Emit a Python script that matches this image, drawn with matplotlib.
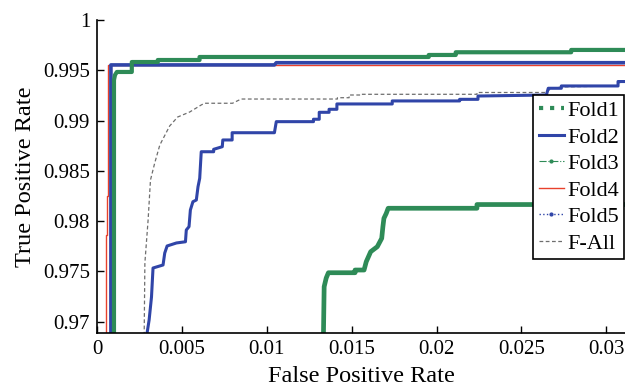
import matplotlib
matplotlib.use("Agg")
import matplotlib.pyplot as plt
from matplotlib.lines import Line2D

plt.rcParams['font.family'] = 'serif'
plt.rcParams['font.serif'] = ['Liberation Serif', 'DejaVu Serif']

# ----- data (FPR, TPR) -----
fold1_fpr = [0.01334, 0.01334, 0.01338, 0.01350, 0.01363, 0.01520, 0.01520, 0.01573,
             0.01586, 0.01612, 0.01651, 0.01677, 0.01684, 0.01690, 0.01704, 0.01715,
             0.02238, 0.02238, 0.0320]
fold1_tpr = [0.9680, 0.96888, 0.97348, 0.97434, 0.97487, 0.97487, 0.97514, 0.97514,
             0.97597, 0.97696, 0.97746, 0.97829, 0.97945, 0.98028, 0.98078, 0.98128,
             0.98128, 0.98165, 0.98165]

fold2_fpr = [0.00295, 0.00295, 0.00307, 0.00321, 0.00330, 0.00389, 0.00399, 0.00413,
             0.00468, 0.00521, 0.00526, 0.00542, 0.00550, 0.00565, 0.00585, 0.00595,
             0.00605, 0.00614, 0.00687, 0.00687, 0.00738, 0.00741, 0.00796, 0.00796,
             0.01045, 0.01056, 0.01275, 0.01275, 0.01309, 0.01309, 0.01367, 0.01367,
             0.01413, 0.01413, 0.01739, 0.01739, 0.02136, 0.02136, 0.02244, 0.02244,
             0.02647, 0.02658, 0.02735, 0.02735, 0.03069, 0.03069, 0.0320]
fold2_tpr = [0.9680, 0.96888, 0.97017, 0.97246, 0.97534, 0.97564, 0.97683, 0.97753,
             0.97783, 0.97795, 0.97912, 0.97945, 0.98111, 0.98193, 0.98210, 0.98342,
             0.98426, 0.98690, 0.98690, 0.98714, 0.98740, 0.98807, 0.98807, 0.98879,
             0.98879, 0.98989, 0.98989, 0.99013, 0.99013, 0.99082, 0.99082, 0.99112,
             0.99112, 0.99165, 0.99165, 0.99195, 0.99195, 0.99211, 0.99211, 0.99244,
             0.99254, 0.99321, 0.99321, 0.99344, 0.99344, 0.99388, 0.99388]

fold3_fpr = [0.00100, 0.00100, 0.00106, 0.00117, 0.00205, 0.00205, 0.00358, 0.00358,
             0.00604, 0.00604, 0.01954, 0.01954, 0.02113, 0.02113, 0.02793, 0.02793, 0.0320]
fold3_tpr = [0.9680, 0.99403, 0.99453, 0.99483, 0.99483, 0.99582, 0.99582, 0.99602,
             0.99602, 0.99632, 0.99632, 0.99652, 0.99652, 0.99679, 0.99679, 0.99702, 0.99702]

fold4_fpr = [0.00053, 0.00053, 0.00057, 0.00057, 0.00062, 0.00062, 0.0320]
fold4_tpr = [0.9680, 0.97862, 0.97862, 0.98250, 0.98250, 0.99548, 0.99548]

fold5_fpr = [0.00082, 0.00082, 0.01045, 0.01056, 0.0320]
fold5_tpr = [0.9680, 0.99553, 0.99553, 0.99575, 0.99575]

fall_fpr = [0.00278, 0.00278, 0.00282, 0.00301, 0.00315, 0.00340, 0.00370, 0.00428,
            0.00475, 0.00546, 0.00614, 0.00634, 0.00798, 0.00849, 0.01416, 0.01416,
            0.01485, 0.01485, 0.01553, 0.01553, 0.02238, 0.02238, 0.02647, 0.02670,
            0.02735, 0.03069, 0.03081, 0.0320]
fall_tpr = [0.9680, 0.96888, 0.97584, 0.98011, 0.98409, 0.98578, 0.98757, 0.98946,
            0.99035, 0.99085, 0.99155, 0.99172, 0.99172, 0.99214, 0.99214, 0.99227,
            0.99227, 0.99254, 0.99254, 0.99261, 0.99261, 0.99279, 0.99279, 0.99314,
            0.99334, 0.99344, 0.99383, 0.99383]

x_ticks = [0, 0.005, 0.01, 0.015, 0.02, 0.025, 0.03]
x_tick_labels = ['0', '0.005', '0.01', '0.015', '0.02', '0.025', '0.03']
y_ticks = [0.97, 0.975, 0.98, 0.985, 0.99, 0.995, 1.0]
y_tick_labels = ['0.97', '0.975', '0.98', '0.985', '0.99', '0.995', '1']
legend_names = ['Fold1', 'Fold2', 'Fold3', 'Fold4', 'Fold5', 'F-All']

green = '#2e8b57'
blue = '#3045a8'
red = '#e8412c'
gray = '#6e6e6e'

fig = plt.figure(figsize=(6.25, 3.87), dpi=100)
ax = fig.add_axes([0.1552, 0.1388, 0.8448, 0.8096])

ax.plot(fall_fpr, fall_tpr, color=gray, linestyle='--', linewidth=0.9, dashes=(3, 2))
ax.plot(fold4_fpr, fold4_tpr, color=red, linewidth=1.0)
ax.plot(fold5_fpr, fold5_tpr, color=blue, linewidth=2.6)
ax.plot(fold3_fpr, fold3_tpr, color=green, linewidth=3.0)
ax.plot(fold2_fpr, fold2_tpr, color=blue, linewidth=2.2)
ax.plot(fold1_fpr, fold1_tpr, color=green, linewidth=3.4)

ax.set_xlim(0, 0.0311)
ax.set_ylim(0.96885, 1.0)
ax.set_xticks(x_ticks)
ax.set_xticklabels(x_tick_labels)
ax.set_yticks(y_ticks)
ax.set_yticklabels(y_tick_labels)
ax.tick_params(direction='in', length=5, width=1, labelsize=15, pad=5)
for s in ['top', 'right']:
    ax.spines[s].set_visible(False)
for s in ['left', 'bottom']:
    ax.spines[s].set_linewidth(1.2)

ax.set_xlabel('False Positive Rate', fontsize=17.5, labelpad=5)
ax.set_ylabel('True Positive Rate', fontsize=17.5, labelpad=5)

# legend handles drawn in the styles of the original key
handles = [
    Line2D([], [], color=green, linestyle=':', linewidth=3),
    Line2D([], [], color=blue, linestyle='-', linewidth=2.2),
    Line2D([], [], color=green, linestyle='-.', linewidth=0.8, marker='.', markersize=4),
    Line2D([], [], color=red, linestyle='-', linewidth=1.0),
    Line2D([], [], color=blue, linestyle=':', linewidth=1.0, marker='.', markersize=4),
    Line2D([], [], color=gray, linestyle='--', linewidth=0.9, dashes=(3, 2)),
]
leg = ax.legend(handles, legend_names, loc='upper left', bbox_to_anchor=(0.826, 0.761),
                borderaxespad=0, fontsize=16, handlelength=1.15, handletextpad=0.12,
                labelspacing=0.27, borderpad=0.25, fancybox=False, framealpha=1)
leg.get_frame().set_edgecolor('black')
leg.get_frame().set_linewidth(1.2)

fig.savefig('out.png', dpi=100)
